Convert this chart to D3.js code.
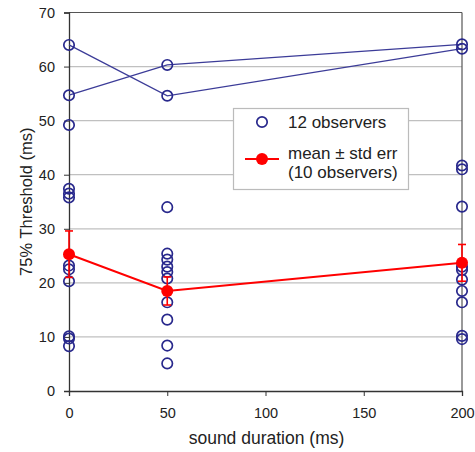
<!DOCTYPE html>
<html><head><meta charset="utf-8">
<script src="https://cdn.jsdelivr.net/npm/d3@7"></script>
<style>body{margin:0;background:#fff}svg{display:block}text{font-family:"Liberation Sans",Arial,sans-serif}</style>
</head><body>
<div id="chart"></div>
<script>
const durations = [0, 50, 200];
const obs0 = [64.0, 54.7, 49.2, 37.4, 36.5, 35.8, 23.2, 22.5, 20.3, 10.1, 9.7, 8.3];
const obs50 = [60.3, 54.6, 34.0, 25.4, 24.3, 23.0, 22.0, 20.8, 16.4, 13.2, 8.4, 5.1];
const obs200 = [64.1, 63.3, 41.7, 41.0, 34.1, 23.0, 22.4, 20.6, 18.5, 16.4, 10.2, 9.6];
const lineA = [64.0, 54.6, 63.3];
const lineB = [54.7, 60.3, 64.1];
const means = [25.3, 18.5, 23.7];
const errs = [4.3, 2.6, 3.4];
const xTicks = [0, 50, 100, 150, 200];
const yTicks = [0, 10, 20, 30, 40, 50, 60, 70];

const W = 475, H = 452;
const m = {left: 69, right: 13, top: 12.5, bottom: 61};
const svg = d3.select("#chart").append("svg").attr("width", W).attr("height", H);
const x = d3.scaleLinear().domain([0, 200]).range([m.left, W - m.right]);
const y = d3.scaleLinear().domain([0, 70]).range([H - m.bottom, m.top]);

// gridlines
svg.append("g").selectAll("line").data(yTicks.filter(d => d > 0 && d < 70)).join("line")
  .attr("x1", x(0)).attr("x2", x(200)).attr("y1", d => y(d)).attr("y2", d => y(d))
  .attr("stroke", "#c0c0c0").attr("stroke-width", 1.3);

// frame top/right
svg.append("line").attr("x1", x(0)).attr("x2", x(200)).attr("y1", y(70)).attr("y2", y(70)).attr("stroke", "#555").attr("stroke-width", 1.2);
svg.append("line").attr("x1", x(200)).attr("x2", x(200)).attr("y1", y(70)).attr("y2", y(0)).attr("stroke", "#555").attr("stroke-width", 1.2);

// axes
const yAxis = svg.append("g").attr("transform", `translate(${x(0)},0)`)
  .call(d3.axisLeft(y).tickValues(yTicks).tickSize(5).tickPadding(9));
const xAxis = svg.append("g").attr("transform", `translate(0,${y(0)})`)
  .call(d3.axisBottom(x).tickValues(xTicks).tickSize(5).tickPadding(12));
[yAxis, xAxis].forEach(g => {
  g.select(".domain").attr("stroke", "#333").attr("stroke-width", 1.3);
  g.selectAll(".tick line").attr("stroke", "#333");
  g.selectAll(".tick text").attr("fill", "#222").style("font-size", "14.5px");
});

// axis titles
svg.append("text").attr("x", 266.5).attr("y", 444).attr("text-anchor", "middle")
  .style("font-size", "17.5px").attr("fill", "#222").text("sound duration (ms)");
svg.append("text").attr("transform", `translate(32,${(y(0) + y(70)) / 2}) rotate(-90)`).attr("text-anchor", "middle")
  .style("font-size", "16.5px").attr("fill", "#222").text("75% Threshold (ms)");

// observer lines
const ln = d3.line().x((d, i) => x(durations[i])).y(d => y(d));
[lineA, lineB].forEach(arr => {
  svg.append("path").datum(arr).attr("d", ln).attr("fill", "none").attr("stroke", "#3c3c98").attr("stroke-width", 1.3);
});

// observer circles
const allObs = [obs0, obs50, obs200];
allObs.forEach((arr, i) => {
  svg.append("g").selectAll("circle").data(arr).join("circle")
    .attr("cx", x(durations[i])).attr("cy", d => y(d)).attr("r", 5.2)
    .attr("fill", "none").attr("stroke", "#28288c").attr("stroke-width", 1.7);
});

// mean line, error bars
svg.append("path").datum(means).attr("d", ln).attr("fill", "none").attr("stroke", "#f00").attr("stroke-width", 2);
const eb = svg.append("g");
means.forEach((mv, i) => {
  const cx = x(durations[i]);
  eb.append("line").attr("x1", cx).attr("x2", cx).attr("y1", y(mv + errs[i])).attr("y2", y(mv - errs[i])).attr("stroke", "#f00").attr("stroke-width", 1.6);
  [mv + errs[i], mv - errs[i]].forEach(v => {
    eb.append("line").attr("x1", cx - 4).attr("x2", cx + 4).attr("y1", y(v)).attr("y2", y(v)).attr("stroke", "#f00").attr("stroke-width", 1.6);
  });
});
svg.append("g").selectAll("circle").data(means).join("circle")
  .attr("cx", (d, i) => x(durations[i])).attr("cy", d => y(d)).attr("r", 6).attr("fill", "#f00");

// legend
const lg = svg.append("g");
lg.append("rect").attr("x", 233.5).attr("y", 108.5).attr("width", 175).attr("height", 81)
  .attr("fill", "#fff").attr("stroke", "#bbb").attr("stroke-width", 1.2);
lg.append("circle").attr("cx", 262).attr("cy", 122).attr("r", 5.2).attr("fill", "none").attr("stroke", "#28288c").attr("stroke-width", 1.7);
lg.append("text").attr("x", 288).attr("y", 127.5).style("font-size", "17px").attr("fill", "#222").text("12 observers");
lg.append("line").attr("x1", 245).attr("x2", 279).attr("y1", 159).attr("y2", 159).attr("stroke", "#f00").attr("stroke-width", 2);
lg.append("circle").attr("cx", 262).attr("cy", 159).attr("r", 6).attr("fill", "#f00");
lg.append("text").attr("x", 288).attr("y", 158.5).style("font-size", "17px").attr("fill", "#222").text("mean ± std err");
lg.append("text").attr("x", 288).attr("y", 177.5).style("font-size", "17px").attr("fill", "#222").text("(10 observers)");
</script>
</body></html>
